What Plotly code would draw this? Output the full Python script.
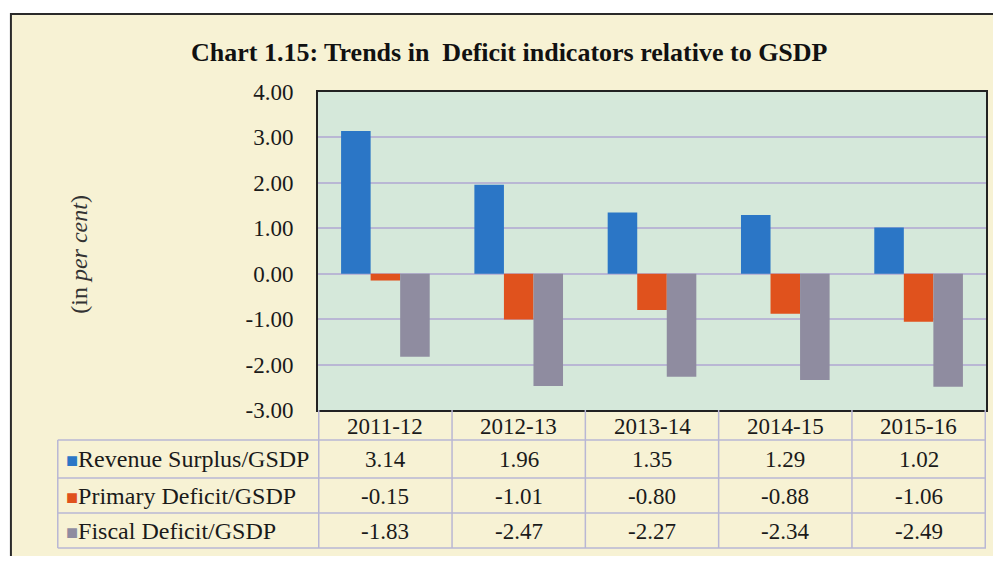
import plotly.graph_objects as go

years = ['2011-12', '2012-13', '2013-14', '2014-15', '2015-16']
revenue_surplus = [3.14, 1.96, 1.35, 1.29, 1.02]
primary_deficit = [-0.15, -1.01, -0.80, -0.88, -1.06]
fiscal_deficit = [-1.83, -2.47, -2.27, -2.34, -2.49]

series_names = ['Revenue Surplus/GSDP', 'Primary Deficit/GSDP', 'Fiscal Deficit/GSDP']
series_values = [revenue_surplus, primary_deficit, fiscal_deficit]
colors = ['#2b76c6', '#e0521d', '#8f8ca0']

y_ticks = [-3, -2, -1, 0, 1, 2, 3, 4]
y_ticktext = ['%.2f' % v for v in y_ticks]  # plain hyphen minus as in the source

# page body has an 8px margin, so the figure is shrunk and everything shifted by it
OFF = 8
W, H = 1001 - 2 * OFF, 564 - 2 * OFF
L, R, T, B = 318, 988, 92, 410  # plot area in window pixels

def px(x):
    return (x - L) / (R - L)

def py(y):
    return (B - y) / (B - T)

SERIF = 'Liberation Serif, Times New Roman, serif'
GRID = '#b9b7d4'
TXT = '#1a1a1a'

fig = go.Figure()
for name, vals, c in zip(series_names, series_values, colors):
    fig.add_trace(go.Bar(x=years, y=vals, name=name, marker=dict(color=c, line_width=0)))

shapes = []
# white margins outside the scanned frame
shapes.append(dict(type='rect', xref='paper', yref='paper', x0=px(0), x1=px(1010),
                   y0=py(14), y1=py(0), fillcolor='white', line_width=0, layer='below'))
shapes.append(dict(type='rect', xref='paper', yref='paper', x0=px(0), x1=px(10),
                   y0=py(14), y1=py(570), fillcolor='white', line_width=0, layer='below'))
# outer frame
shapes.append(dict(type='rect', xref='paper', yref='paper', x0=px(10), x1=px(1003),
                   y0=py(14), y1=py(570), line=dict(color='#2a2a2a', width=2)))

# table lines
for yy in [440, 478, 513, 548]:
    shapes.append(dict(type='line', xref='paper', yref='paper', x0=px(57), x1=px(R),
                       y0=py(yy), y1=py(yy), line=dict(color=GRID, width=1.5)))
shapes.append(dict(type='line', xref='paper', yref='paper', x0=px(57), x1=px(57),
                   y0=py(440), y1=py(548), line=dict(color=GRID, width=1.5)))
for i in range(len(years) + 1):
    shapes.append(dict(type='line', xref='x', yref='paper', x0=i - 0.5, x1=i - 0.5,
                       y0=py(B), y1=py(548), line=dict(color=GRID, width=1.5)))

annotations = []
row_centers = [459, 496, 531]
for yy, name, vals, c in zip(row_centers, series_names, series_values, colors):
    annotations.append(dict(xref='paper', yref='paper', x=px(63), y=py(yy),
                            xanchor='left', yanchor='middle', showarrow=False,
                            text=f"<span style='color:{c};font-size:20px'>■</span>{name}",
                            font=dict(family=SERIF, size=24, color=TXT)))
    for yr, v in zip(years, vals):
        annotations.append(dict(xref='x', yref='paper', x=yr, y=py(yy),
                                xanchor='center', yanchor='middle', showarrow=False,
                                text=f'{v:.2f}', font=dict(family=SERIF, size=23, color=TXT)))
for yr in years:
    annotations.append(dict(xref='x', yref='paper', x=yr, y=py(426),
                            xanchor='center', yanchor='middle', showarrow=False,
                            text=yr, font=dict(family=SERIF, size=23, color=TXT)))

annotations.append(dict(xref='paper', yref='paper', x=px(78), y=py(254),
                        textangle=-90, showarrow=False, xanchor='center', yanchor='middle',
                        text='(in <i>per cent</i>)',
                        font=dict(family=SERIF, size=24, color='#333333')))
annotations.append(dict(xref='paper', yref='paper', x=px(510), y=py(52),
                        showarrow=False, xanchor='center', yanchor='middle',
                        text='<b>Chart 1.15: Trends in  Deficit indicators relative to GSDP</b>',
                        font=dict(family=SERIF, size=26, color='#111111')))

fig.update_layout(
    width=W, height=H,
    margin=dict(l=L - OFF, r=1001 - OFF - R, t=T - OFF, b=564 - OFF - B),
    paper_bgcolor='#f7f2d4', plot_bgcolor='#d5e8da',
    barmode='group', bargap=0.335, bargroupgap=0,
    showlegend=False,
    shapes=shapes, annotations=annotations,
    xaxis=dict(type='category', showticklabels=False, ticks='', showgrid=False,
               zeroline=False, showline=True, linecolor='#222222', linewidth=2, mirror=True),
    yaxis=dict(range=[-3, 4], tickvals=y_ticks, ticktext=y_ticktext, showgrid=True,
               gridcolor=GRID, gridwidth=1.5, zeroline=True, zerolinecolor=GRID,
               zerolinewidth=1.5, ticks='', ticklabelstandoff=18,
               tickfont=dict(family=SERIF, size=23, color=TXT),
               showline=True, linecolor='#222222', linewidth=2, mirror=True),
)

fig.write_html('out.html')
